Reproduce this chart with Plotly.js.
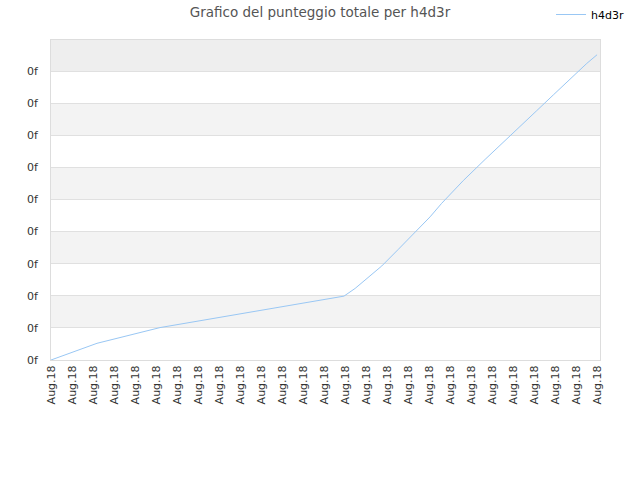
<!DOCTYPE html>
<html>
<head>
<meta charset="utf-8">
<script src="https://cdn.plot.ly/plotly-3.0.1.min.js"></script>
<style>
    html, body { margin: 0; padding: 0; background: #fff; }
    #chart { width: 640px; height: 480px; }
</style>
</head>
<body>
<div id="chart"></div>
<script>
// Values (x in tick steps, y in grid steps)
const seriesName = 'h4d3r';
const scoreX = [0, 2.19, 5.19, 13.95, 14.48, 15.27, 15.75, 16.54, 17.41, 18.05, 18.6, 19.16, 19.63, 20.67, 21.46, 22.25, 23.13, 23.92, 24.71, 25.51, 26.0];
const scoreY = [0, 0.52, 1.01, 1.99, 2.23, 2.65, 2.93, 3.45, 4.03, 4.46, 4.88, 5.26, 5.59, 6.25, 6.73, 7.24, 7.77, 8.26, 8.75, 9.24, 9.51];

const xTickVals = Array.from({ length: 27 }, (_, i) => i);
const xTickText = xTickVals.map(() => 'Aug.18');
const yTickVals = [0, 1, 2, 3, 4, 5, 6, 7, 8, 9];
const yTickText = yTickVals.map(() => '0f');

const yTop = 9.97;

// alternating bands behind the grid
const bands = [];
yTickVals.forEach(v => {
    if (v % 2 === 1) {
        const top = Math.min(v + 1, yTop);
        bands.push({
            type: 'rect', xref: 'paper', yref: 'y', layer: 'below',
            x0: 0, x1: 1, y0: v, y1: top,
            fillcolor: v === 9 ? '#eeeeee' : '#f3f3f3', line: { width: 0 }
        });
    }
});

const trace = {
    x: scoreX,
    y: scoreY,
    name: seriesName,
    type: 'scatter',
    mode: 'lines',
    line: { color: '#99c7f4', width: 1 },
    hoverinfo: 'skip'
};

const layout = {
    width: 640,
    height: 480,
    paper_bgcolor: '#ffffff',
    plot_bgcolor: '#ffffff',
    font: { family: 'DejaVu Sans, sans-serif', size: 11, color: '#333' },
    margin: { l: 51, r: 40, t: 40, b: 120, pad: 0, autoexpand: false },
    title: {
        text: 'Grafico del punteggio totale per h4d3r',
        font: { size: 13.5, color: '#555' },
        x: 0.5, xanchor: 'center',
        y: 0.975, yanchor: 'middle'
    },
    showlegend: true,
    legend: {
        xref: 'container', yref: 'container',
        x: 0.861, xanchor: 'left',
        y: 1.0, yanchor: 'top',
        bgcolor: 'rgba(0,0,0,0)',
        font: { size: 11, color: '#000' }
    },
    xaxis: {
        range: [0, 26.14],
        tickvals: xTickVals,
        ticktext: xTickText,
        tickangle: -90,
        showgrid: false,
        zeroline: false,
        showline: true,
        mirror: true,
        linecolor: '#dddddd',
        linewidth: 1,
        ticks: '',
        tickfont: { size: 11, color: '#333' }
    },
    yaxis: {
        range: [0, yTop],
        tickvals: yTickVals,
        ticktext: yTickText,
        showgrid: true,
        gridcolor: '#e0e0e0',
        gridwidth: 1,
        zeroline: false,
        showline: true,
        mirror: true,
        linecolor: '#dddddd',
        linewidth: 1,
        ticks: '',
        ticklabelstandoff: 10,
        tickfont: { size: 11, color: '#333' }
    },
    shapes: bands
};

Plotly.newPlot('chart', [trace], layout, { displayModeBar: false, staticPlot: true });
</script>
</body>
</html>
